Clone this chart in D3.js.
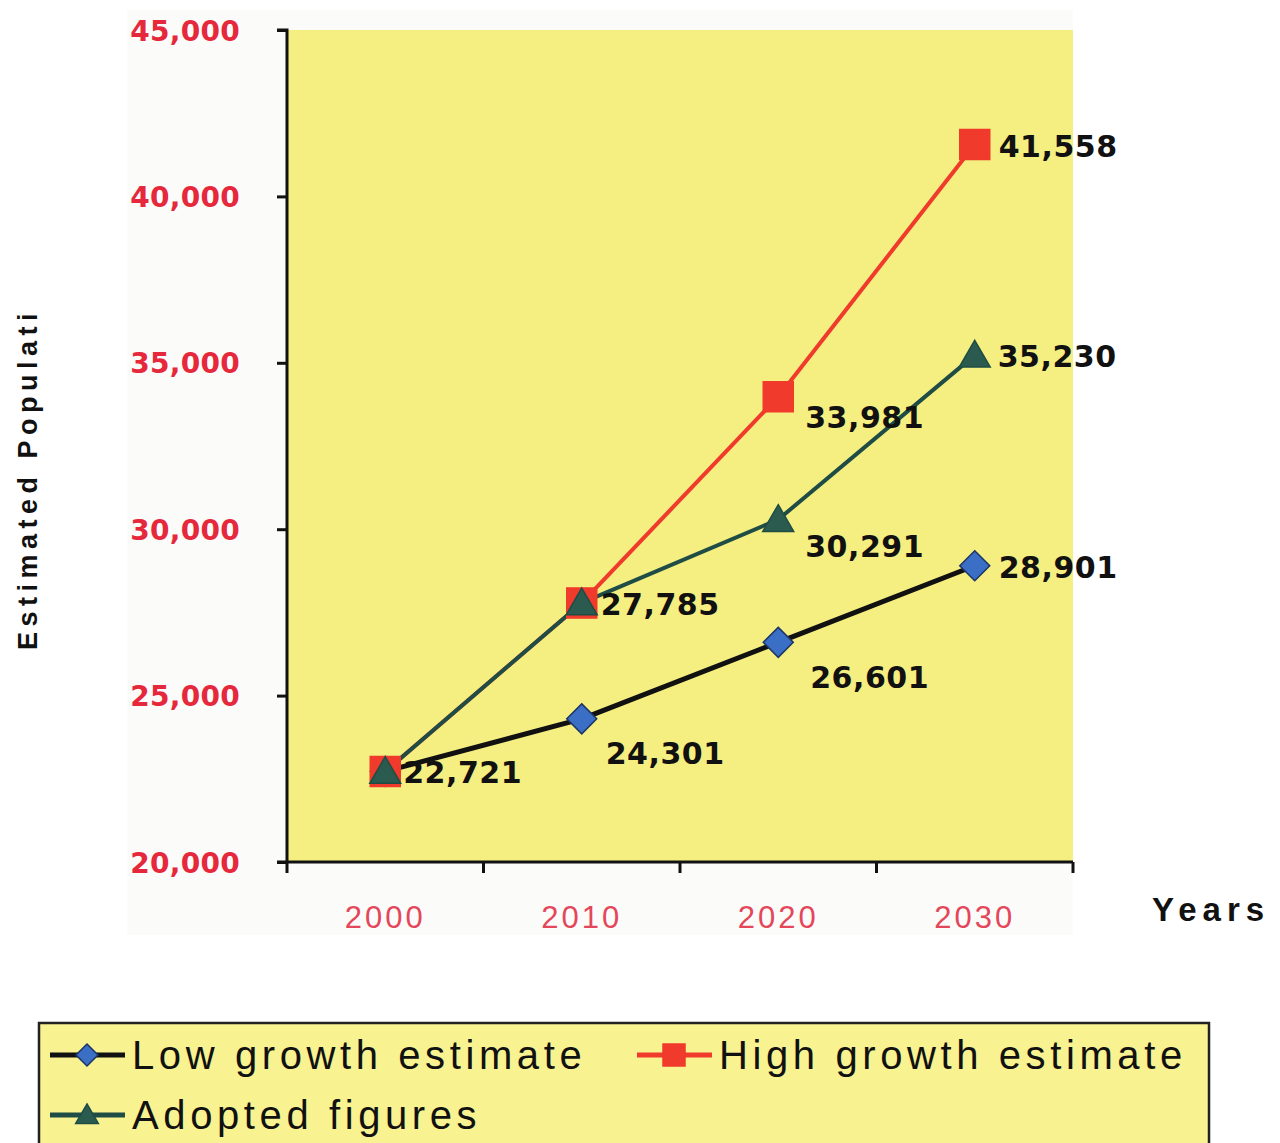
<!DOCTYPE html>
<html>
<head>
<meta charset="utf-8">
<script src="https://cdn.jsdelivr.net/npm/d3@7"></script>
<style>
  body { margin: 0; background: #fff; }
  svg { display: block; font-family: "Liberation Sans", Arial, sans-serif; }
</style>
</head>
<body>
<svg id="chart"></svg>
<script>
const years = ["2000", "2010", "2020", "2030"];
const lowGrowth = [22721, 24301, 26601, 28901];
const highGrowth = [22721, 27785, 33981, 41558];
const adopted = [22721, 27785, 30291, 35230];
const yTicks = [20000, 25000, 30000, 35000, 40000, 45000];
const seriesNames = ["Low growth estimate", "High growth estimate", "Adopted figures"];

const svg = d3.select("#chart")
    .attr("width", 1280)
    .attr("height", 1143);

const plot = { left: 287, right: 1073, top: 30, bottom: 862 };
const boldFont = "'DejaVu Sans', 'Liberation Sans', sans-serif";

const x = d3.scaleBand()
    .domain(years)
    .range([plot.left, plot.right]);

const y = d3.scaleLinear()
    .domain([20000, 45000])
    .range([plot.bottom, plot.top]);

const cx = d => x(d) + x.bandwidth() / 2;

// faint chart area + yellow plot area
svg.append("rect")
    .attr("x", 127).attr("y", 10)
    .attr("width", plot.right - 127).attr("height", 925)
    .attr("fill", "#fbfbfa");

svg.append("rect")
    .attr("x", plot.left).attr("y", plot.top)
    .attr("width", plot.right - plot.left)
    .attr("height", plot.bottom - plot.top)
    .attr("fill", "#f5ee80");

// y axis
const yAxis = svg.append("g")
    .attr("transform", `translate(${plot.left},0)`)
    .call(d3.axisLeft(y).tickValues(yTicks).tickSize(10).tickPadding(37)
        .tickFormat(d3.format(",")));
yAxis.select(".domain").attr("stroke", "#111").attr("stroke-width", 3)
    .attr("d", `M-10,${plot.top}H0V${plot.bottom}`);
yAxis.selectAll(".tick line").attr("stroke", "#111").attr("stroke-width", 3);
yAxis.selectAll(".tick text")
    .attr("fill", "#e5283b")
    .attr("font-family", boldFont)
    .attr("font-size", 28)
    .attr("font-weight", "bold")
    .attr("letter-spacing", 0.3)
    .attr("dy", "0.36em");

// x axis: ticks at band edges, labels at band centres
const xAxis = svg.append("g");
xAxis.append("line")
    .attr("x1", plot.left - 10).attr("x2", plot.right)
    .attr("y1", plot.bottom).attr("y2", plot.bottom)
    .attr("stroke", "#111").attr("stroke-width", 3);
xAxis.selectAll(".edge")
    .data(years.map(d => x(d)).concat([x.range()[1]]))
    .join("line")
    .attr("x1", d => d).attr("x2", d => d)
    .attr("y1", plot.bottom).attr("y2", plot.bottom + 11)
    .attr("stroke", "#111").attr("stroke-width", 3);
xAxis.selectAll(".lbl")
    .data(years)
    .join("text")
    .attr("x", d => cx(d))
    .attr("y", 928)
    .attr("text-anchor", "middle")
    .attr("fill", "#e4475a")
    .attr("font-size", 31)
    .attr("letter-spacing", 3)
    .text(d => d);

// axis titles
svg.append("text")
    .attr("transform", "translate(37,650) rotate(-90)")
    .attr("font-size", 27)
    .attr("font-weight", "bold")
    .attr("letter-spacing", 5.5)
    .attr("fill", "#111")
    .text("Estimated Populati");

svg.append("text")
    .attr("x", 1152).attr("y", 921)
    .attr("font-size", 33)
    .attr("font-weight", "bold")
    .attr("letter-spacing", 6)
    .attr("fill", "#111")
    .text("Years");

// series
const series = [
    { name: seriesNames[0], values: lowGrowth, line: "#111111", lw: 5, fill: "#3b6fc6", stroke: "#1d3566", shape: "diamond" },
    { name: seriesNames[1], values: highGrowth, line: "#f03a2b", lw: 4, fill: "#f03a2b", stroke: "#f03a2b", shape: "square" },
    { name: seriesNames[2], values: adopted, line: "#1f4d45", lw: 4, fill: "#2a5b4e", stroke: "#1f4d45", shape: "triangle" }
];

function symbolPath(shape, s) {
    if (shape === "square") return d3.symbol(d3.symbolSquare, s * s)();
    if (shape === "diamond") return d3.symbol(d3.symbolSquare, s * s / 2)();
    return d3.symbol(d3.symbolTriangle, s * s * 0.46)();
}

const line = d3.line()
    .x((d, i) => cx(years[i]))
    .y(d => y(d));

series.forEach(s => {
    svg.append("path")
        .datum(s.values)
        .attr("d", line)
        .attr("fill", "none")
        .attr("stroke", s.line)
        .attr("stroke-width", s.lw)
        .attr("stroke-linejoin", "round");
});

series.forEach(s => {
    svg.selectAll(null)
        .data(s.values)
        .join("path")
        .attr("d", symbolPath(s.shape, 30))
        .attr("transform", (d, i) => `translate(${cx(years[i])},${y(d)})` + (s.shape === "diamond" ? " rotate(45)" : "") + (s.shape === "triangle" ? " translate(0,3)" : ""))
        .attr("fill", s.fill)
        .attr("stroke", s.stroke)
        .attr("stroke-width", 1.5);
});

// data labels: [series index, point index, dx, dy]
const labelSpots = [
    [0, 0, 18, 12], [0, 1, 24, 45], [0, 2, 32, 46], [0, 3, 24, 12],
    [2, 1, 19, 12], [1, 2, 27, 31], [2, 2, 27, 37],
    [1, 3, 24, 12], [2, 3, 23, 12]
];
svg.selectAll(".val")
    .data(labelSpots)
    .join("text")
    .attr("x", d => cx(years[d[1]]) + d[2])
    .attr("y", d => y(series[d[0]].values[d[1]]) + d[3])
    .attr("font-family", boldFont)
    .attr("font-size", 30)
    .attr("font-weight", "bold")
    .attr("letter-spacing", 0.5)
    .attr("fill", "#111")
    .text(d => d3.format(",")(series[d[0]].values[d[1]]));

// legend
const legend = svg.append("g");
legend.append("rect")
    .attr("x", 39).attr("y", 1023)
    .attr("width", 1170).attr("height", 140)
    .attr("fill", "#f8f290")
    .attr("stroke", "#222")
    .attr("stroke-width", 2.5);

const legendPos = [[50, 1055], [637, 1055], [50, 1115]];
series.forEach((s, i) => {
    const [lx, ly] = legendPos[i];
    legend.append("line")
        .attr("x1", lx).attr("x2", lx + 75)
        .attr("y1", ly).attr("y2", ly)
        .attr("stroke", s.line).attr("stroke-width", 5);
    legend.append("path")
        .attr("d", symbolPath(s.shape, 22))
        .attr("transform", `translate(${lx + 37},${ly})` + (s.shape === "diamond" ? " rotate(45)" : "") + (s.shape === "triangle" ? " translate(0,2)" : ""))
        .attr("fill", s.fill)
        .attr("stroke", s.stroke)
        .attr("stroke-width", 1.5);
    legend.append("text")
        .attr("x", lx + 82)
        .attr("y", ly + 14)
        .attr("font-size", 40)
        .attr("letter-spacing", 4.6)
        .attr("fill", "#111")
        .text(s.name);
});
</script>
</body>
</html>
